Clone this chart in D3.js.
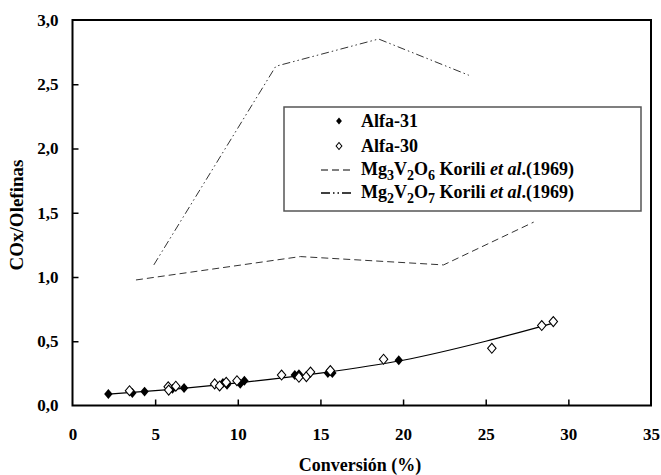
<!DOCTYPE html>
<html>
<head>
<meta charset="utf-8">
<script src="https://cdn.jsdelivr.net/npm/d3@7"></script>
<style>
  body { margin: 0; background: #fff; }
  svg text { font-family: "Liberation Serif", "DejaVu Serif", serif; font-weight: bold; }
</style>
</head>
<body>
<div id="chart"></div>
<script>
"use strict";

// Alfa-31 (filled diamonds)
var alfa31X = [2.17, 3.62, 4.36, 6.05, 6.75, 9.1, 9.35, 10.15, 10.4, 13.45, 13.7, 15.45, 15.72, 19.74];
var alfa31Y = [0.089, 0.097, 0.108, 0.13, 0.136, 0.175, 0.162, 0.169, 0.193, 0.237, 0.243, 0.252, 0.252, 0.352];

// Alfa-30 (open diamonds)
var alfa30X = [3.45, 5.79, 5.82, 6.25, 8.6, 8.9, 9.3, 9.95, 12.65, 13.7, 14.15, 14.4, 15.6, 18.82, 25.37, 28.39, 29.09];
var alfa30Y = [0.115, 0.145, 0.12, 0.15, 0.168, 0.152, 0.18, 0.193, 0.237, 0.22, 0.225, 0.26, 0.272, 0.36, 0.445, 0.622, 0.653];

// trend line
var trendX = [2.2, 5, 10, 15, 20, 25, 29.2];
var trendY = [0.088, 0.115, 0.176, 0.252, 0.352, 0.5, 0.645];

// Korili et al. (1969)
var mg3X = [3.84, 13.79, 22.45, 27.9];
var mg3Y = [0.977, 1.159, 1.094, 1.427];
var mg2X = [4.92, 12.3, 18.52, 23.98];
var mg2Y = [1.094, 2.64, 2.852, 2.57];

var xTicks = [0, 5, 10, 15, 20, 25, 30, 35];
var yTicks = [0, 0.5, 1.0, 1.5, 2.0, 2.5, 3.0];

var W = 661, H = 475;
var plot = { left: 72.5, right: 651, top: 20, bottom: 405.5 };
var serif = "'Liberation Serif', 'DejaVu Serif', serif";

var svg = d3.select("#chart").append("svg")
    .attr("width", W)
    .attr("height", H);

var x = d3.scaleLinear().domain([0, 35]).range([plot.left, plot.right]);
var y = d3.scaleLinear().domain([0, 3]).range([plot.bottom, plot.top]);

function zip(xs, ys) {
    return xs.map(function(v, i) { return [v, ys[i]]; });
}

// axes with inward ticks
var xAxis = svg.append("g")
    .attr("transform", "translate(0," + plot.bottom + ")")
    .call(d3.axisBottom(x).tickValues(xTicks).tickSizeInner(-6).tickSizeOuter(0).tickPadding(22));
var yAxis = svg.append("g")
    .attr("transform", "translate(" + plot.left + ",0)")
    .call(d3.axisLeft(y).tickValues(yTicks).tickSizeInner(-6).tickSizeOuter(0).tickPadding(14)
        .tickFormat(function(d) { return d3.format(".1f")(d).replace(".", ","); }));

[xAxis, yAxis].forEach(function(a) {
    a.attr("font-family", null).attr("font-size", null);
    a.select(".domain").remove();
    a.selectAll(".tick line").attr("stroke", "#000").attr("stroke-width", 1.5);
    a.selectAll(".tick text")
        .attr("fill", "#000")
        .style("font-size", "17px")
        .style("font-family", serif)
        .style("font-weight", "bold");
});
// hide the inward ticks at the ends
xAxis.selectAll(".tick line").filter(function(d) { return d === 0 || d === 35; }).remove();
yAxis.selectAll(".tick line").filter(function(d) { return d === 0 || d === 3; }).remove();

// frame
svg.append("rect")
    .attr("x", plot.left)
    .attr("y", plot.top)
    .attr("width", plot.right - plot.left)
    .attr("height", plot.bottom - plot.top)
    .attr("fill", "none")
    .attr("stroke", "#000")
    .attr("stroke-width", 2);

// axis titles
svg.append("text")
    .attr("x", 360)
    .attr("y", 471)
    .attr("text-anchor", "middle")
    .style("font-size", "18px")
    .text("Conversión (%)");

svg.append("text")
    .attr("transform", "translate(23,215) rotate(-90)")
    .attr("text-anchor", "middle")
    .style("font-size", "19px")
    .text("COx/Olefinas");

var line = d3.line()
    .x(function(d) { return x(d[0]); })
    .y(function(d) { return y(d[1]); });

// Korili lines
svg.append("path")
    .datum(zip(mg3X, mg3Y))
    .attr("d", line)
    .attr("fill", "none")
    .attr("stroke", "#333")
    .attr("stroke-width", 1)
    .attr("stroke-dasharray", "7,4");

svg.append("path")
    .datum(zip(mg2X, mg2Y))
    .attr("d", line)
    .attr("fill", "none")
    .attr("stroke", "#333")
    .attr("stroke-width", 1)
    .attr("stroke-dasharray", "8,3,1.5,3,1.5,3");

// trend line
svg.append("path")
    .datum(zip(trendX, trendY))
    .attr("d", d3.line().curve(d3.curveMonotoneX)
        .x(function(d) { return x(d[0]); })
        .y(function(d) { return y(d[1]); }))
    .attr("fill", "none")
    .attr("stroke", "#000")
    .attr("stroke-width", 1.2);

// diamond = rotated square
var square = d3.symbol().type(d3.symbolSquare).size(44);
function diamondAt(d) {
    return "translate(" + x(d[0]) + "," + y(d[1]) + ") scale(0.9,1.06) rotate(45)";
}

// filled diamonds
svg.append("g").selectAll("path")
    .data(zip(alfa31X, alfa31Y))
    .enter()
    .append("path")
    .attr("d", square)
    .attr("transform", diamondAt)
    .attr("fill", "#000");

// open diamonds
svg.append("g").selectAll("path")
    .data(zip(alfa30X, alfa30Y))
    .enter()
    .append("path")
    .attr("d", square)
    .attr("transform", diamondAt)
    .attr("fill", "#fff")
    .attr("stroke", "#000")
    .attr("stroke-width", 1.1);

// legend
var legend = svg.append("g");
legend.append("rect")
    .attr("x", 284)
    .attr("y", 107)
    .attr("width", 357)
    .attr("height", 104)
    .attr("fill", "#fff")
    .attr("stroke", "#555")
    .attr("stroke-width", 1.5);

var legendSquare = d3.symbol().type(d3.symbolSquare).size(20);
legend.append("path")
    .attr("d", legendSquare)
    .attr("transform", "translate(339,121) scale(0.92,1.08) rotate(45)")
    .attr("fill", "#000");
legend.append("path")
    .attr("d", legendSquare)
    .attr("transform", "translate(339,146) scale(0.92,1.08) rotate(45)")
    .attr("fill", "#fff")
    .attr("stroke", "#000");
legend.append("line")
    .attr("x1", 321).attr("x2", 354).attr("y1", 170).attr("y2", 170)
    .attr("stroke", "#000").attr("stroke-width", 1)
    .attr("stroke-dasharray", "7,4");
legend.append("line")
    .attr("x1", 321).attr("x2", 354).attr("y1", 193).attr("y2", 193)
    .attr("stroke", "#000").attr("stroke-width", 1.6)
    .attr("stroke-dasharray", "9,3,1.5,3,1.5,3");

function legendText(yPos, parts) {
    var t = legend.append("text")
        .attr("x", 361)
        .attr("y", yPos)
        .style("font-size", "18px");
    parts.forEach(function(p) {
        var s = t.append("tspan").text(p.t);
        if (p.sub) {
            s.attr("dy", 5).style("font-size", "14px");
        } else if (p.after) {
            s.attr("dy", -5);
        }
        if (p.it) s.style("font-style", "italic");
    });
}

legendText(127, [{ t: "Alfa-31" }]);
legendText(152, [{ t: "Alfa-30" }]);
legendText(175, [
    { t: "Mg" }, { t: "3", sub: true }, { t: "V", after: true }, { t: "2", sub: true },
    { t: "O", after: true }, { t: "6", sub: true }, { t: " Korili ", after: true },
    { t: "et al", it: true }, { t: ".(1969)" }
]);
legendText(198, [
    { t: "Mg" }, { t: "2", sub: true }, { t: "V", after: true }, { t: "2", sub: true },
    { t: "O", after: true }, { t: "7", sub: true }, { t: " Korili ", after: true },
    { t: "et al", it: true }, { t: ".(1969)" }
]);
</script>
</body>
</html>
